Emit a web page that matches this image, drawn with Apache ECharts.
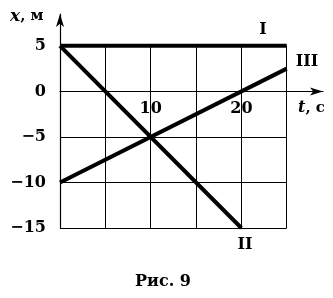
<!DOCTYPE html>
<html><head><meta charset="utf-8">
<script src="https://cdn.jsdelivr.net/npm/echarts@6/dist/echarts.min.js"></script>
<style>html,body{margin:0;padding:0;background:#fff}#c{width:333px;height:298px}</style>
</head><body><div id="c"></div>
<script>
const lineI = [[0, 5], [25, 5]];
const lineII = [[0, 5], [20, -15]];
const lineIII = [[0, -10], [25, 2.5]];
const gridT = [5, 10, 15, 20, 25];
const gridX = [-15, -10, -5, 5];
const xTickLabels = [10, 20];
const yTickLabels = [-15, -10, -5, 0, 5];

const FONT = 'DejaVu Serif';
const vLines = gridT.map(t => [{coord: [t, -15]}, {coord: [t, 5]}]);
const hLines = gridX.map(v => [{coord: [0, v]}, {coord: [25, v]}]);

const thick = (name, data) => ({
  name, type: 'line', data, symbol: 'none', silent: true,
  lineStyle: {color: '#000', width: 4}, z: 5
});

const chart = echarts.init(document.getElementById('c'), null, {renderer: 'canvas'});
chart.setOption({
  animation: false,
  backgroundColor: '#fff',
  grid: {left: 60, right: 10, top: 14, bottom: 70},
  xAxis: {
    type: 'value', min: 0, max: 29, interval: 5,
    splitLine: {show: false}, axisTick: {show: false},
    axisLine: {show: true, onZero: true, symbol: ['none', 'arrow'], symbolSize: [6, 13],
      lineStyle: {color: '#000', width: 1.2}},
    axisLabel: {show: false}
  },
  yAxis: {
    type: 'value', min: -15, max: 8.5, interval: 5,
    splitLine: {show: false}, axisTick: {show: false},
    axisLine: {show: true, onZero: false, symbol: ['none', 'arrow'], symbolSize: [6, 13],
      lineStyle: {color: '#000', width: 1.2}},
    axisLabel: {
      margin: 14, color: '#000', fontFamily: FONT, fontWeight: 'bold', fontSize: 16,
      formatter: v => yTickLabels.includes(v) ? String(v).replace('-', '\u2212') : ''
    }
  },
  series: [
    {
      type: 'line', data: [], silent: true,
      markLine: {
        silent: true, symbol: 'none', label: {show: false},
        lineStyle: {color: '#000', width: 1, type: 'solid'},
        data: vLines.concat(hLines)
      },
      markPoint: {
        silent: true, symbol: 'circle', symbolSize: 0,
        label: {show: true, position: 'inside', offset: [0, 17], color: '#000',
          fontFamily: FONT, fontWeight: 'bold', fontSize: 16,
          formatter: p => p.name},
        data: xTickLabels.map(t => ({name: String(t), coord: [t, 0]}))
      }
    },
    thick('I', lineI),
    thick('II', lineII),
    thick('III', lineIII)
  ],
  graphic: [
    {type: 'text', left: 10, top: 8, style: {
      text: '{i|x}{n|, м}', rich: {
        i: {fontFamily: FONT, fontStyle: 'italic', fontWeight: 'bold', fontSize: 17, fill: '#000'},
        n: {fontFamily: FONT, fontWeight: 'bold', fontSize: 15, fill: '#000'}
      }}},
    {type: 'text', left: 298, top: 100, style: {
      text: '{i|t}{n|, c}', rich: {
        i: {fontFamily: FONT, fontStyle: 'italic', fontWeight: 'bold', fontSize: 16, fill: '#000'},
        n: {fontFamily: FONT, fontWeight: 'bold', fontSize: 15, fill: '#000'}
      }}},
    {type: 'text', x: 263, y: 30, style: {text: 'I', font: 'bold 16px "DejaVu Serif"', fill: '#000', align: 'center', verticalAlign: 'middle'}},
    {type: 'text', x: 307, y: 62, style: {text: 'III', font: 'bold 16px "DejaVu Serif"', fill: '#000', align: 'center', verticalAlign: 'middle'}},
    {type: 'text', x: 245, y: 245, style: {text: 'II', font: 'bold 16px "DejaVu Serif"', fill: '#000', align: 'center', verticalAlign: 'middle'}},
    {type: 'text', x: 163, y: 282, style: {text: 'Рис. 9', font: 'bold 16px "DejaVu Serif"', fill: '#000', align: 'center', verticalAlign: 'middle'}}
  ]
});
</script></body></html>
